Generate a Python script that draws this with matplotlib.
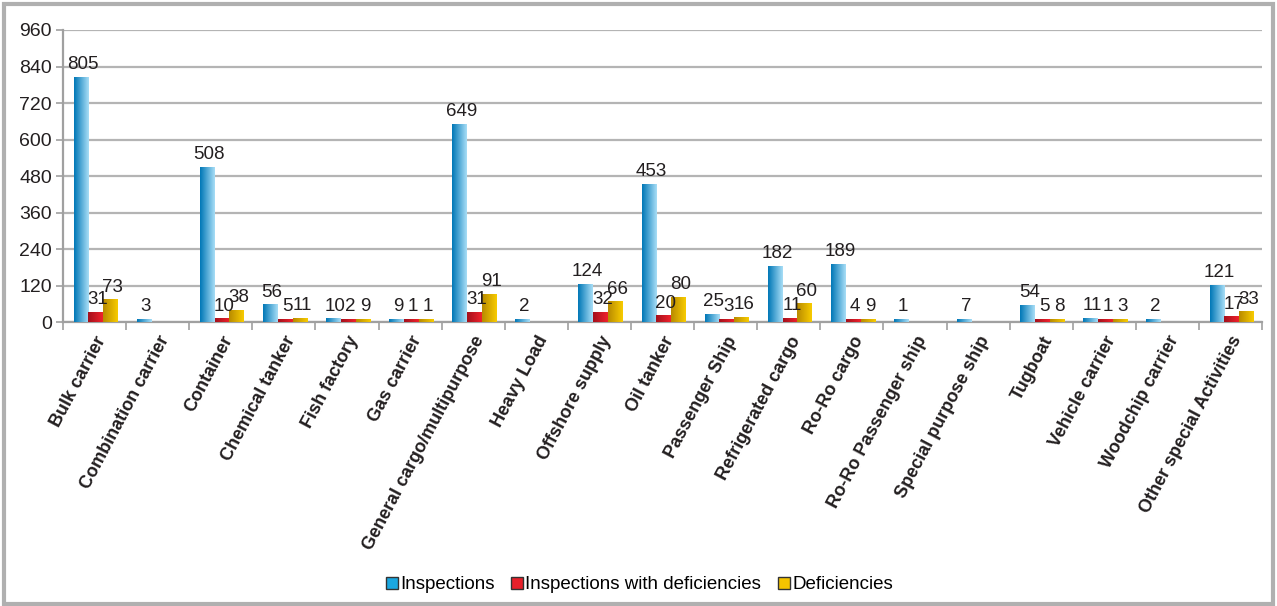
import numpy as np
import matplotlib
matplotlib.use("Agg")
import matplotlib.pyplot as plt
from matplotlib.colors import LinearSegmentedColormap
from matplotlib.lines import Line2D
from matplotlib.patches import Rectangle

plt.rcParams['font.family'] = ['Liberation Sans', 'DejaVu Sans']

categories = ["Bulk carrier", "Combination carrier", "Container", "Chemical tanker",
              "Fish factory", "Gas carrier", "General cargo/multipurpose", "Heavy Load",
              "Offshore supply", "Oil tanker", "Passenger Ship", "Refrigerated cargo",
              "Ro-Ro cargo", "Ro-Ro Passenger ship", "Special purpose ship", "Tugboat",
              "Vehicle carrier", "Woodchip carrier", "Other special Activities"]
inspections = [805, 3, 508, 56, 10, 9, 649, 2, 124, 453, 25, 182, 189, 1, 7, 54, 11, 2, 121]
insp_with_def = [31, 0, 10, 5, 2, 1, 31, 0, 32, 20, 3, 11, 4, 0, 0, 5, 1, 0, 17]
deficiencies = [73, 0, 38, 11, 9, 1, 91, 0, 66, 80, 16, 60, 9, 0, 0, 8, 3, 0, 33]
series_names = ["Inspections", "Inspections with deficiencies", "Deficiencies"]
yticks = [0, 120, 240, 360, 480, 600, 720, 840, 960]

# gradient colours (dark -> light, left to right in each bar)
grads = [("#0077b6", "#a8def7"), ("#a3101c", "#f0222c"), ("#b88a00", "#f8cc00")]
legend_cols = ["#1aa7e0", "#e8202a", "#f5c400"]
txt_col = "#231f20"

fig = plt.figure(figsize=(12.77, 6.06), dpi=100)
ax = fig.add_axes([0.0493, 0.4686, 0.9390, 0.4819])

x = np.arange(len(categories))
w = 0.235
offsets = [-w, 0.0, w]
data = [inspections, insp_with_def, deficiencies]

for k, vals in enumerate(data):
    bars = ax.bar(x + offsets[k] + 0.02, vals, width=w, color="none", edgecolor="none")
    cmap = LinearSegmentedColormap.from_list("g%d" % k, grads[k])
    grad = np.linspace(0, 1, 64).reshape(1, -1)
    for b, v in zip(bars, vals):
        if v <= 0:
            continue
        h = max(v, 8)
        x0 = b.get_x()
        ax.imshow(grad, cmap=cmap, extent=[x0, x0 + b.get_width(), 0, h],
                  aspect="auto", zorder=3, interpolation="bicubic")
        ax.text(b.get_x() + b.get_width() / 2 + 0.03, h + 14, str(v), ha="center",
                va="bottom", fontsize=13.5, color=txt_col, zorder=4)

ax.set_xlim(-0.5, len(categories) - 0.5)
ax.set_ylim(0, 960)
ax.set_yticks(yticks)
ax.set_yticklabels([str(t) for t in yticks], fontsize=14, color=txt_col)
ax.yaxis.grid(True, color="#b4b4b4", linewidth=1.6)
ax.set_axisbelow(True)

ax.set_xticks(np.arange(len(categories) + 1) - 0.5, minor=True)
ax.set_xticks(x)
ax.set_xticklabels(categories, rotation=62, ha="right", rotation_mode="anchor",
                   fontsize=13, fontweight="heavy", color=txt_col)
ax.tick_params(axis="x", which="major", length=0, pad=8)
ax.tick_params(axis="x", which="minor", length=6, color="#a0a0a0", width=1.2)
ax.tick_params(axis="y", length=5, color="#a0a0a0", width=1.2, pad=3)

for s in ["top", "right"]:
    ax.spines[s].set_visible(False)
for s in ["left", "bottom"]:
    ax.spines[s].set_color("#a0a0a0")
    ax.spines[s].set_linewidth(1.6)

handles = [Line2D([], [], marker="s", linestyle="none", markersize=8,
                  markerfacecolor=c, markeredgecolor="#333333", markeredgewidth=1.0)
           for c in legend_cols]
fig.legend(handles, series_names, loc="center", bbox_to_anchor=(0.5, 0.035), ncol=3,
           frameon=False, fontsize=13.5, handletextpad=0.05, columnspacing=0.8,
           handlelength=0.8)

fig.patches.append(Rectangle((0.003, 0.004), 0.994, 0.99, transform=fig.transFigure,
                             fill=False, edgecolor="#b0b0b0", linewidth=3))

fig.savefig("out.png", dpi=100)
